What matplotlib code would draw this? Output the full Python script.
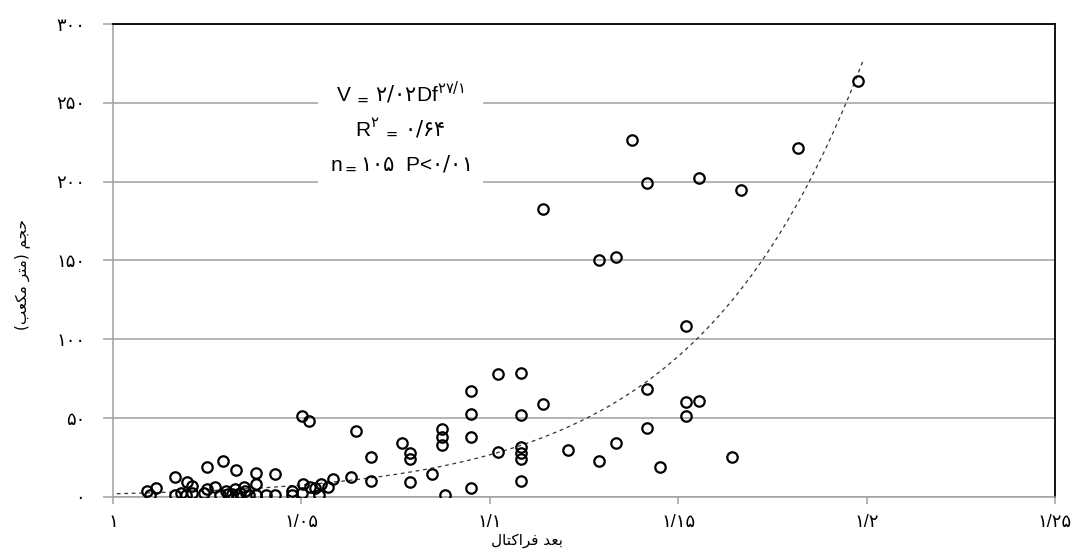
import matplotlib
matplotlib.use("Agg")
import matplotlib.pyplot as plt
from matplotlib.patches import Rectangle
import numpy as np

plt.rcParams['font.family'] = ['Liberation Sans', 'DejaVu Sans']
plt.rcParams['mathtext.fontset'] = 'custom'
plt.rcParams['mathtext.rm'] = 'DejaVu Sans'
plt.rcParams['mathtext.default'] = 'rm'

# fractal dimension vs volume
frac_dim = [
    1.0089, 1.0098, 1.0114, 1.0164, 1.0164, 1.0180, 1.0194, 1.0196, 1.0209, 1.0209,
    1.0242, 1.0250, 1.0250, 1.0272, 1.0284, 1.0292, 1.0300, 1.0304, 1.0316, 1.0325,
    1.0327, 1.0328, 1.0336, 1.0348, 1.0350, 1.0361, 1.0380, 1.0380, 1.0380, 1.0405,
    1.0429, 1.0429, 1.0475, 1.0475, 1.0503, 1.0519, 1.0505, 1.0503, 1.0523, 1.0536,
    1.0546, 1.0552, 1.0571, 1.0585, 1.0631, 1.0644, 1.0685, 1.0685, 1.0768, 1.0787,
    1.0787, 1.0787, 1.0847, 1.0874, 1.0874, 1.0874, 1.0881, 1.0950, 1.0950, 1.0950,
    1.0950, 1.1022, 1.1022, 1.1083, 1.1083, 1.1083, 1.1083, 1.1083, 1.1083, 1.1140,
    1.1140, 1.1208, 1.1291, 1.1291, 1.1334, 1.1334, 1.1377, 1.1416, 1.1416, 1.1416,
    1.1452, 1.1522, 1.1522, 1.1522, 1.1555, 1.1555, 1.1643, 1.1668, 1.1817, 1.1976,
]
volume = [
    4.0, 1.1, 5.5, 12.5, 1.3, 2.5, 1.3, 9.7, 7.2, 2.3,
    2.3, 18.8, 4.9, 6.2, 1.1, 23.0, 4.0, 1.9, 1.7, 4.9,
    17.1, 1.3, 2.5, 6.5, 3.5, 1.3, 15.0, 8.2, 1.3, 1.5,
    14.8, 1.3, 3.8, 1.3, 51.4, 48.0, 8.0, 2.7, 6.5, 5.5,
    1.3, 8.2, 6.5, 11.6, 12.5, 41.7, 25.6, 10.3, 34.4, 27.7,
    24.3, 9.5, 14.6, 43.1, 37.9, 32.8, 1.5, 67.0, 52.6, 37.9,
    5.5, 78.0, 28.7, 78.8, 51.8, 31.5, 27.7, 24.1, 10.3, 59.2,
    182.7, 30.0, 150.1, 22.6, 152.4, 34.4, 226.4, 199.0, 68.5, 43.6,
    19.0, 108.5, 60.4, 51.4, 202.5, 61.1, 25.6, 194.5, 221.5, 263.6,
]

# power trend line V = a * Df^b, as printed on the chart
trend_a = 2.02
trend_b = 27.1
trend_range = (1.001, 1.199)

x_ticks = [1.0, 1.05, 1.1, 1.15, 1.2, 1.25]
x_tick_labels = ['۱', '۱/۰۵', '۱/۱', '۱/۱۵', '۱/۲', '۱/۲۵']
y_ticks = [0, 50, 100, 150, 200, 250, 300]
y_tick_labels = ['۰', '۵۰', '۱۰۰', '۱۵۰', '۲۰۰', '۲۵۰', '۳۰۰']

x_label = 'بعد فراکتال'
y_label = 'حجم (متر مکعب)'
eq_lines = [
    r'V$\,_{=}\,$$\mathrm{۲/۰۲}$Df$^{\mathrm{۲۷/۱}}$',
    r'R$^{\mathrm{۲}}$$\,_{=}\,$$\mathrm{۰/۶۴}$',
    r'n$_{=}$$\mathrm{۱۰۵}$  P<$\mathrm{۰/۰۱}$',
]

# presentation forms: isolated, final, initial, medial
FORMS = {
    'ا': ('\ufe8d', '\ufe8e'),
    'ب': ('\ufe8f', '\ufe90', '\ufe91', '\ufe92'),
    'ت': ('\ufe95', '\ufe96', '\ufe97', '\ufe98'),
    'ج': ('\ufe9d', '\ufe9e', '\ufe9f', '\ufea0'),
    'ح': ('\ufea1', '\ufea2', '\ufea3', '\ufea4'),
    'د': ('\ufea9', '\ufeaa'),
    'ر': ('\ufead', '\ufeae'),
    'ع': ('\ufec9', '\ufeca', '\ufecb', '\ufecc'),
    'ف': ('\ufed1', '\ufed2', '\ufed3', '\ufed4'),
    'ل': ('\ufedd', '\ufede', '\ufedf', '\ufee0'),
    'م': ('\ufee1', '\ufee2', '\ufee3', '\ufee4'),
    'ک': ('\ufb8e', '\ufb8f', '\ufb90', '\ufb91'),
}


def shape_fa(s):
    # matplotlib has no bidi/shaping, so do a minimal one by hand
    out = []
    for i, ch in enumerate(s):
        if ch not in FORMS:
            out.append({'(': ')', ')': '('}.get(ch, ch))
            continue
        forms = FORMS[ch]
        prev = s[i - 1] if i > 0 else ''
        nxt = s[i + 1] if i + 1 < len(s) else ''
        join_prev = prev in FORMS and len(FORMS[prev]) == 4
        join_next = nxt in FORMS and len(forms) == 4
        if join_prev and join_next:
            out.append(forms[3])
        elif join_prev:
            out.append(forms[1])
        elif join_next:
            out.append(forms[2])
        else:
            out.append(forms[0])
    return ''.join(reversed(out))


fig = plt.figure(figsize=(10.79, 5.53), dpi=100)
ax = fig.add_axes([0.1047, 0.1013, 0.8730, 0.8553])

grid_c = '#a0a0a0'
ax.set_xlim(1.0, 1.25)
ax.set_ylim(0, 300)
ax.set_yticks(y_ticks)
ax.set_yticklabels(y_tick_labels, fontsize=13)
ax.set_xticks(x_ticks)
ax.set_xticklabels(x_tick_labels, fontsize=13)
ax.yaxis.grid(True, color=grid_c, lw=1.1)
ax.set_axisbelow(True)
ax.tick_params(axis='y', length=7, width=1.1, color=grid_c, pad=13)
ax.tick_params(axis='x', length=5, width=1.1, color=grid_c, pad=7)
ax.spines['left'].set_color(grid_c)
ax.spines['bottom'].set_color(grid_c)
ax.spines['left'].set_linewidth(1.1)
ax.spines['bottom'].set_linewidth(1.1)
ax.spines['top'].set_color('black')
ax.spines['right'].set_color('black')
ax.spines['top'].set_linewidth(1.3)
ax.spines['right'].set_linewidth(1.3)

xs = np.linspace(trend_range[0], trend_range[1], 300)
ax.plot(xs, trend_a * xs ** trend_b, ls=(0, (3, 3)), color='#333333', lw=0.9, zorder=2)

ax.plot(frac_dim, volume, 'o', ms=7.5, mfc='none', mec='black', mew=1.6, zorder=3)

ax.add_patch(Rectangle((0.2176, 0.649), 0.1752, 0.243, transform=ax.transAxes,
                       facecolor='white', edgecolor='none', zorder=1.5))
for yy, line in zip([0.856, 0.780, 0.704], eq_lines):
    ax.text(0.3047, yy, line, transform=ax.transAxes, ha='center', va='center',
            fontsize=15, zorder=4)

ax.set_xlabel(shape_fa(x_label), fontsize=11, family=['DejaVu Sans'])
ax.xaxis.set_label_coords(0.44, -0.077)
ax.set_ylabel(shape_fa(y_label), fontsize=11, family=['DejaVu Sans'])
ax.yaxis.set_label_coords(-0.088, 0.47)

fig.savefig('out.png', dpi=100)
